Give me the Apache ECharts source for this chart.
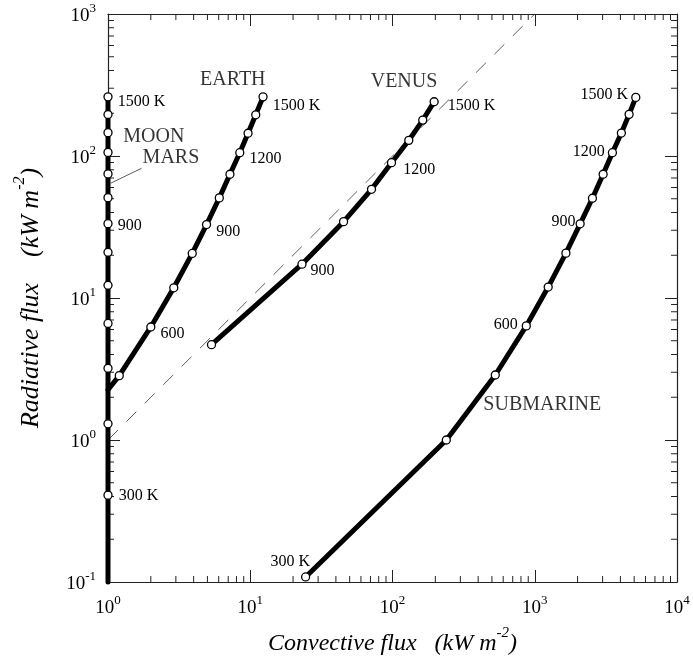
<!DOCTYPE html>
<html>
<head>
<meta charset="utf-8">
<script src="https://cdn.jsdelivr.net/npm/echarts@6/dist/echarts.min.js"></script>
<style>
  html, body { margin: 0; padding: 0; background: #fff; }
  #chart { width: 693px; height: 661px; }
</style>
</head>
<body>
<div id="chart"></div>
<script>
// [convective, radiative] in kW m-2, one point per 100 K
const moonMars = [[1, 0.1], [1, 0.409], [1, 1.30], [1, 3.20], [1, 6.62], [1, 12.3], [1, 21.0], [1, 33.4],
  [1, 50.9], [1, 74.8], [1, 106], [1, 146], [1, 196], [1, 261]];
const earth = [[1, 2.26], [1.20, 2.84], [2.00, 6.25], [2.90, 11.8], [3.91, 20.6], [4.93, 32.9], [6.06, 50.7],
  [7.20, 74.4], [8.44, 105.5], [9.65, 144.6], [10.93, 195], [12.30, 261]];
const venus = [[5.34, 4.69], [23.1, 17.3], [45.3, 34.5], [71.2, 58.3], [98.4, 89.7], [130.2, 128.9],
  [163.2, 179], [196.2, 241]];
const submarine = [[24.5, 0.1085], [239, 1.0], [528, 2.87], [872, 6.36], [1243, 11.94], [1656, 20.7],
  [2085, 33.3], [2544, 50.4], [3025, 74.4], [3515, 105.5], [4064, 145.1], [4605, 196.4], [5131, 258.6]];
const oneToOne = [[1, 1], [1000, 1000]];
const moonLeader = [[1.72, 81.9], [1.044, 64.3]];

// temperature labels: [point index, text]
const moonTemps = [[1, '300 K'], [7, '900'], [13, '1500 K']];
const earthTemps = [[2, '600'], [5, '900'], [8, '1200'], [11, '1500 K']];
const venusTemps = [[1, '900'], [4, '1200'], [7, '1500 K']];
const subTemps = [[0, '300 K'], [3, '600'], [6, '900'], [9, '1200'], [12, '1500 K']];

// curve names: [x, y, text]
const curveNames = [[7.54, 342, 'EARTH'], [120.5, 331, 'VENUS'], [1129, 1.776, 'SUBMARINE'],
  [2.10, 136, 'MOON'], [2.77, 96.8, 'MARS']];

const xExtent = [1, 10000];
const yExtent = [0.1, 1000];
const minorFactors = [2, 3, 4, 5, 6, 7, 8, 9];

const FONT = 'Liberation Serif';

// label offsets (style), keyed by point index
const labelOffsets = {
  moon: { 1: [1, 1], 7: [0, 2], 13: [0, 5] },
  earth: { 2: [0, 7], 5: [0, 7], 8: [0, 6], 11: [0, 9] },
  venus: { 1: [-1, 7], 4: [2, 7], 7: [4, 4] },
  sub: { 0: [14, -15], 3: [1, -1], 6: [5, -2], 9: [2, -1], 12: [2, -3] }
};

function buildPoints(points, temps, side, offsets, hideFirst) {
  return points.map((p, i) => {
    const item = { value: p };
    if (hideFirst && i === 0) item.symbol = 'none';
    const t = temps.find(l => l[0] === i);
    if (t) {
      item.label = {
        show: true,
        formatter: t[1],
        position: side,
        offset: offsets[i] || [0, 0],
        fontFamily: FONT,
        fontSize: 16,
        color: '#000'
      };
    }
    return item;
  });
}

function curve(name, data) {
  return {
    name: name,
    type: 'line',
    data: data,
    clip: false,
    symbol: 'circle',
    symbolSize: 8,
    showAllSymbol: true,
    lineStyle: { color: '#000', width: 5, join: 'round', cap: 'round' },
    itemStyle: { color: '#fff', borderColor: '#000', borderWidth: 1.3 },
    emphasis: { disabled: true },
    z: 3
  };
}

function minorTickData() {
  const out = [];
  for (let e = 0; e < 4; e++) minorFactors.forEach(k => out.push([k * Math.pow(10, e), 1, 0]));
  for (let e = -1; e < 3; e++) minorFactors.forEach(k => out.push([1, k * Math.pow(10, e), 1]));
  return out;
}

function supLabel(v) {
  const exp = Math.round(Math.log10(v));
  return '{b|10}{s|' + exp + '}';
}

const tickRich = {
  b: { fontFamily: FONT, fontSize: 19, color: '#000', lineHeight: 24, verticalAlign: 'bottom' },
  s: { fontFamily: FONT, fontSize: 13, color: '#000', lineHeight: 13, verticalAlign: 'top' }
};

function nameRich(size) {
  return {
    n: { fontFamily: FONT, fontStyle: 'italic', fontSize: size, color: '#000', lineHeight: size + 6, verticalAlign: 'bottom' },
    s: { fontFamily: FONT, fontStyle: 'italic', fontSize: Math.round(size * 0.62), color: '#000', lineHeight: Math.round(size * 0.62), verticalAlign: 'top' }
  };
}

const axisLine = { show: true, onZero: false, lineStyle: { color: '#222', width: 1.2 } };
const axisTick = { show: true, inside: true, length: 12, lineStyle: { color: '#222', width: 1 } };

const chart = echarts.init(document.getElementById('chart'));

chart.setOption({
  backgroundColor: '#fff',
  animation: false,
  grid: { left: 108, right: 16, top: 14, bottom: 78 },
  xAxis: [
    {
      type: 'log', logBase: 10, min: xExtent[0], max: xExtent[1],
      axisLine: axisLine, axisTick: axisTick, splitLine: { show: false },
      axisLabel: { margin: 12, formatter: supLabel, rich: tickRich },
      name: '{n|Convective flux   (kW m}{s|-2}{n|)}',
      nameLocation: 'middle', nameGap: 44,
      nameTextStyle: { rich: nameRich(24) }
    },
    {
      type: 'log', logBase: 10, min: xExtent[0], max: xExtent[1], position: 'top',
      axisLine: axisLine, axisTick: axisTick, splitLine: { show: false },
      axisLabel: { show: false }
    }
  ],
  yAxis: [
    {
      type: 'log', logBase: 10, min: yExtent[0], max: yExtent[1],
      axisLine: axisLine, axisTick: axisTick, splitLine: { show: false },
      axisLabel: { margin: 12, formatter: supLabel, rich: tickRich },
      name: '{n|Radiative flux    (kW m}{s|-2}{n|)}',
      nameLocation: 'middle', nameGap: 64, nameRotate: 90,
      nameTextStyle: { rich: nameRich(26) }
    },
    {
      type: 'log', logBase: 10, min: yExtent[0], max: yExtent[1], position: 'right',
      axisLine: axisLine, axisTick: axisTick, splitLine: { show: false },
      axisLabel: { show: false }
    }
  ],
  series: [
    {
      type: 'custom',
      data: minorTickData(),
      encode: { x: 0, y: 1 },
      clip: false,
      silent: true,
      z: 1,
      renderItem: function (params, api) {
        const cs = params.coordSys;
        const len = 6;
        const style = { stroke: '#222', lineWidth: 1 };
        if (api.value(2) === 0) {
          const x = api.coord([api.value(0), 1])[0];
          return {
            type: 'group',
            children: [
              { type: 'line', shape: { x1: x, y1: cs.y + cs.height, x2: x, y2: cs.y + cs.height - len }, style: style },
              { type: 'line', shape: { x1: x, y1: cs.y, x2: x, y2: cs.y + len }, style: style }
            ]
          };
        }
        const y = api.coord([1, api.value(1)])[1];
        return {
          type: 'group',
          children: [
            { type: 'line', shape: { x1: cs.x, y1: y, x2: cs.x + len, y2: y }, style: style },
            { type: 'line', shape: { x1: cs.x + cs.width, y1: y, x2: cs.x + cs.width - len, y2: y }, style: style }
          ]
        };
      }
    },
    {
      type: 'line',
      data: oneToOne,
      symbol: 'none',
      silent: true,
      lineStyle: { color: '#333', width: 0.8, type: [14, 12] },
      z: 2
    },
    {
      type: 'line',
      data: moonLeader,
      symbol: 'none',
      silent: true,
      clip: false,
      lineStyle: { color: '#333', width: 0.8 },
      z: 2
    },
    curve('MOON/MARS', buildPoints(moonMars, moonTemps, 'right', labelOffsets.moon, true)),
    curve('EARTH', buildPoints(earth, earthTemps, 'right', labelOffsets.earth, true)),
    curve('VENUS', buildPoints(venus, venusTemps, 'right', labelOffsets.venus, false)),
    curve('SUBMARINE', buildPoints(submarine, subTemps, 'left', labelOffsets.sub, false)),
    {
      type: 'scatter',
      data: curveNames.map(c => ({ value: [c[0], c[1]], name: c[2] })),
      symbolSize: 1,
      silent: true,
      itemStyle: { color: 'transparent' },
      label: {
        show: true, position: 'inside', formatter: '{b}',
        fontFamily: FONT, fontSize: 20, color: '#000'
      },
      z: 4
    }
  ]
});
</script>
</body>
</html>
